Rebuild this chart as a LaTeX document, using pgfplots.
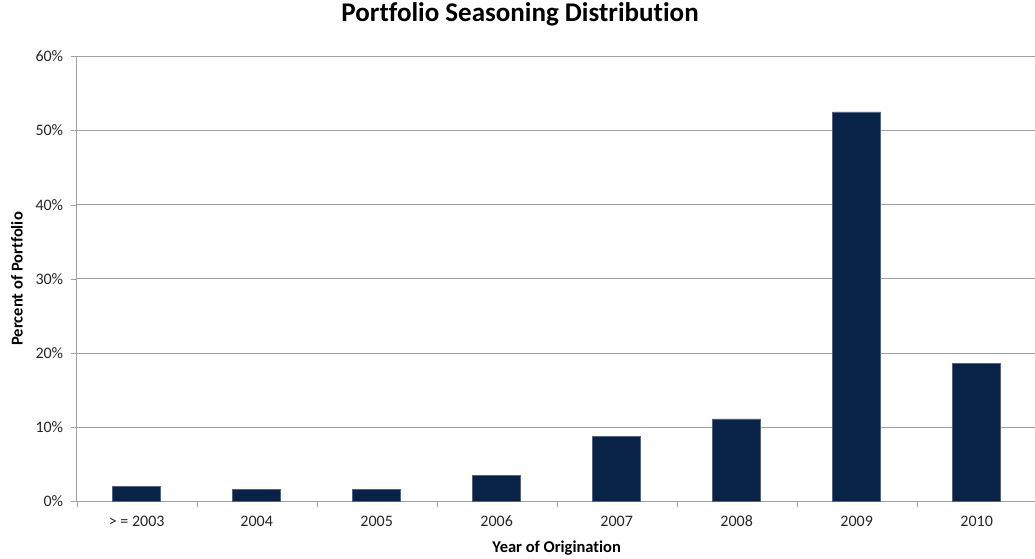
\documentclass[border=0pt]{standalone}
\usepackage{pgfplots}
\pgfplotsset{compat=1.18}
\usepackage{fontspec}
\setmainfont[Ligatures={NoCommon,NoDiscretionary}]{Carlito}
\definecolor{barblue}{RGB}{8,34,72}
\definecolor{gridgray}{RGB}{160,160,160}
\definecolor{txt}{RGB}{38,38,38}
\begin{document}
\begin{tikzpicture}
\begin{axis}[
  at={(0pt,0pt)}, anchor=south west,
  scale only axis,
  width=960pt, height=445pt,
  xmin=-0.5, xmax=7.5,
  ymin=0, ymax=60,
  ytick={0,10,...,60},
  yticklabel={\pgfmathprintnumber{\tick}\%},
  /pgf/number format/assume math mode=true,
  xtick={0,...,7},
  xticklabels={{> = 2003},2004,2005,2006,2007,2008,2009,2010},
  major x tick style={draw=none},
  minor xtick={-0.5,0.5,...,7.5},
  minor x tick style={draw=gridgray},
  x tick style={draw=gridgray},
  y tick style={draw=gridgray},
  tick align=outside,
  major tick length=6pt,
  minor tick length=6pt,
  axis x line*=bottom,
  axis y line*=left,
  axis line style={draw=gridgray, line width=1pt, -},
  ymajorgrids,
  grid style={draw=gridgray, line width=0.8pt},
  tick label style={font=\fontsize{16}{18}\selectfont, text=txt},
  xticklabel style={yshift=-5pt},
  yticklabel style={xshift=-4pt},
  ylabel={\textbf{Percent of Portfolio}},
  xlabel={\textbf{Year of Origination}},
  label style={font=\fontsize{16.5}{18}\selectfont},
  xlabel style={at={(axis description cs:0.5,-0.1056)}, anchor=center},
  ylabel style={at={(axis description cs:-0.0622,0.5)}, anchor=center},
  title={\textbf{Portfolio Seasoning Distribution}},
  title style={font=\fontsize{27}{30}\selectfont, at={(axis description cs:0.4618,1.081)}, anchor=center},
  ybar, bar width=48pt,
  clip=false,
]
\addplot[fill=barblue, draw=barblue!70!white, line width=0.5pt] coordinates {
  (0,2.05) (1,1.6) (2,1.65) (3,3.5) (4,8.8) (5,11.1) (6,52.5) (7,18.6)
};
\end{axis}
\pgfresetboundingbox
\path[use as bounding box] (-76.7pt,-56.7pt) rectangle (958.3pt,501.3pt);
\end{tikzpicture}
\end{document}
